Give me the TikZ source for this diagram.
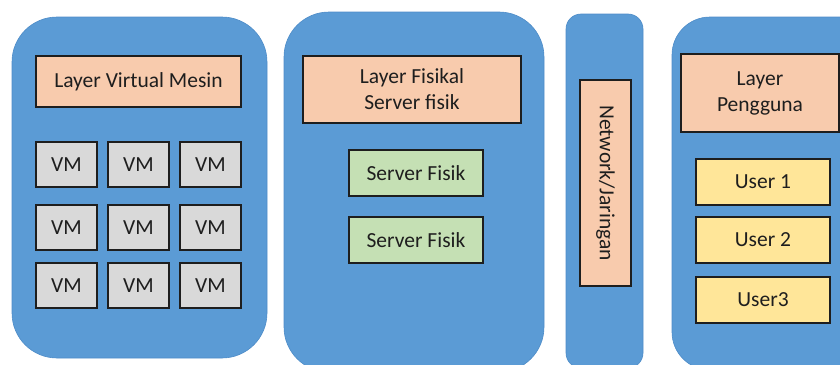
\documentclass[tikz,border=0pt]{standalone}
\usepackage{fontspec}
\setmainfont{Carlito}
\definecolor{panelblue}{HTML}{5B9BD5}
\definecolor{paneledge}{HTML}{4E8CC8}
\definecolor{peach}{HTML}{F8CBAD}
\definecolor{vmgrey}{HTML}{D9D9D9}
\definecolor{srvgreen}{HTML}{C5E0B4}
\definecolor{useryellow}{HTML}{FFE699}
\definecolor{ink}{HTML}{1E1E1E}
\begin{document}
\begin{tikzpicture}[x=1pt,y=-1pt,
  panel/.style={fill=panelblue, draw=paneledge, line width=0.6pt, inner sep=0pt},
  box/.style={draw=ink, line width=1.3pt, inner sep=0pt, align=center,
    text=ink, font=\fontsize{21.5}{26}\selectfont},
  layerbox/.style={box, fill=peach},
  vmbox/.style={box, fill=vmgrey, minimum width=61, minimum height=45},
  srvbox/.style={box, fill=srvgreen, minimum width=134, minimum height=46},
  userbox/.style={box, fill=useryellow, minimum width=134, minimum height=46}]
\useasboundingbox (0,0) rectangle (840,364);
\clip (0,0) rectangle (840,364);

% four background columns
\node[panel, rounded corners=45, minimum width=255, minimum height=341] (pvm) at (139.5,187.5) {};
\node[panel, rounded corners=45, minimum width=260, minimum height=360] (pfis) at (414,192) {};
\node[panel, rounded corners=15, minimum width=77, minimum height=354] (pnet) at (604.5,191) {};
\node[panel, rounded corners=38, minimum width=210, minimum height=353] (pusr) at (777,193.5) {};

% virtual machine layer
\node[layerbox, minimum width=205, minimum height=51] (lvm) at (138.5,81.5) {Layer Virtual Mesin};
\foreach \r/\y in {1/164.5, 2/227.5, 3/285.5}
  \foreach \c/\x in {1/66.5, 2/138.5, 3/210.5}
    \node[vmbox] (vm\r\c) at (\x,\y) {VM};

% physical layer
\node[layerbox, minimum width=218, minimum height=67] (lfis) at (412,89.5) {Layer Fisikal\\Server fisik};
\node[srvbox] (srv1) at (416,173) {Server Fisik};
\node[srvbox] (srv2) at (416,240) {Server Fisik};

% network
\node[layerbox, rotate=-90, minimum width=206, minimum height=51] (net) at (605.5,183) {Network/Jaringan};

% user layer
\node[layerbox, minimum width=158, minimum height=78] (lusr) at (760,93) {Layer\\Pengguna};
\node[userbox] (u1) at (763,182) {User 1};
\node[userbox] (u2) at (763,240) {User 2};
\node[userbox] (u3) at (763,300) {User3};
\end{tikzpicture}
\end{document}
